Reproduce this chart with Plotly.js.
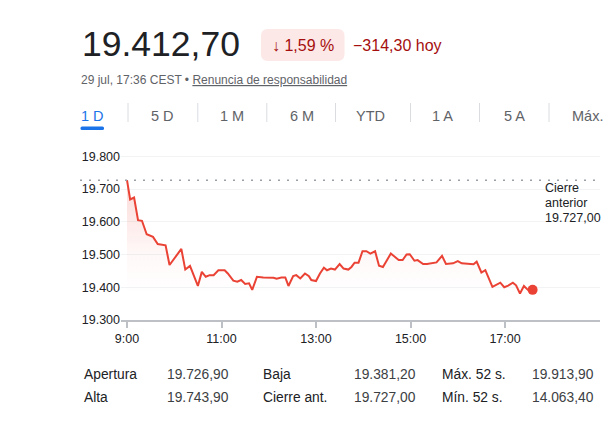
<!DOCTYPE html>
<html>
<head>
<meta charset="utf-8">
<script src="https://cdn.plot.ly/plotly-3.0.1.min.js"></script>
<style>
  html, body { margin: 0; padding: 0; background: #fff; }
  #chart { width: 610px; height: 437px; }
</style>
</head>
<body>
<div id="chart"></div>
<script>
// ---- Data ----
const times = ["9:00","9:04","9:09","9:14","9:19","9:25","9:33","9:39","9:49","9:54",
  "10:09","10:14","10:20","10:30","10:35","10:40","10:45","10:50","10:56",
  "11:04","11:08","11:15","11:20","11:25","11:30","11:35","11:39","11:45","11:53",
  "12:06","12:10","12:16","12:21","12:25","12:31","12:35","12:40","12:46","12:51","12:54",
  "13:00","13:05","13:10","13:14","13:19","13:24","13:30","13:35","13:41","13:45","13:49","13:54","13:59",
  "14:04","14:09","14:15","14:20","14:25","14:35","14:45","14:50","14:55","14:59",
  "15:05","15:09","15:16","15:21","15:33","15:40","15:45","15:54",
  "16:00","16:05","16:20","16:24","16:30","16:35","16:44","16:54","16:59",
  "17:04","17:10","17:14","17:19","17:24","17:29","17:35"];
const prices = [19727,19668,19674,19605,19603,19562,19554,19532,19528,19468,
  19517,19454,19465,19404,19447,19432,19437,19437,19452,
  19452,19442,19420,19417,19422,19410,19412,19392,19432,19430,
  19429,19426,19430,19430,19404,19434,19437,19427,19442,19434,19422,
  19419,19442,19460,19452,19457,19454,19471,19457,19454,19462,19475,19475,19510,
  19510,19503,19510,19466,19462,19503,19483,19483,19500,19501,
  19481,19483,19471,19471,19476,19496,19471,19473,
  19480,19473,19470,19478,19445,19452,19401,19414,19400,
  19405,19414,19406,19381,19404,19392,19392];
const prevClose = 19727.00;
const xTickLabels = ["9:00","11:00","13:00","15:00","17:00"];
const yTicks = [19300,19400,19500,19600,19700,19800];

const priceText = "19.412,70";
const changePct = "↓ 1,59 %";
const changeAbs = "−314,30 hoy";
const stampText = "29 jul, 17:36 CEST • ";
const disclaimer = "Renuncia de responsabilidad";
const tabs = ["1 D","5 D","1 M","6 M","YTD","1 A","5 A","Máx."];
const statLabels = [["Apertura","Alta"],["Baja","Cierre ant."],["Máx. 52 s.","Mín. 52 s."]];
const statValues = [["19.726,90","19.743,90"],["19.381,20","19.727,00"],["19.913,90","14.063,40"]];
const prevLabel = ["Cierre","anterior","19.727,00"];

// ---- helpers ----
function toHours(t){ const p = t.split(":"); return +p[0] + (+p[1])/60; }
const xs = times.map(toHours);
const xTickVals = xTickLabels.map(toHours);

const L = 121, R = 600, T = 153, B = 320;
function px(x){ return (x - L) / (R - L); }
function py(y){ return (B - y) / (B - T); }

const RED = '#ea4335';
const FONT = 'Liberation Sans, Arial, sans-serif';

const traces = [
  {
    x: xs, y: prices, type: 'scatter', mode: 'lines',
    line: { color: RED, width: 2 },
    fill: 'tozeroy',
    fillgradient: {
      type: 'vertical', start: 19380, stop: prevClose,
      colorscale: [[0,'rgba(234,67,53,0)'],[0.35,'rgba(234,67,53,0.035)'],[1,'rgba(234,67,53,0.2)']]
    },
    hoverinfo: 'skip'
  },
  {
    x: [xs[xs.length-1]], y: [prices[prices.length-1]], type: 'scatter', mode: 'markers',
    marker: { color: RED, size: 10 }, hoverinfo: 'skip'
  }
];

const ann = [];
function txt(text, x, y, size, color, anchor, extra){
  ann.push(Object.assign({
    text: text, xref: 'paper', yref: 'paper', x: px(x), y: py(y),
    xanchor: anchor || 'left', yanchor: 'middle', showarrow: false,
    font: { family: FONT, size: size, color: color }, borderpad: 0
  }, extra || {}));
}

// header
txt(priceText, 81, 44, 35.5, '#202124');
txt(changePct, 303, 45, 16, '#a50e0e', 'center');
txt(changeAbs, 352, 45, 16, '#a50e0e');
txt(stampText + '<u>' + disclaimer + '</u>', 80, 80, 12, '#5f6368');

// tabs
const tabCenters = [92.7, 162.4, 231.7, 301.7, 370, 442, 514.5, 587];
tabs.forEach((t, i) => txt(t, tabCenters[i], 116, 14.5, i === 0 ? '#1a73e8' : '#5f6368', 'center'));

// previous close label
prevLabel.forEach((t, i) => txt(t, 543.5, 187.7 + i*15, 12.5, '#202124'));

// stats table
const labX = [83, 262, 441], valX = [165.5, 352.5, 531];
const rowY = [374, 397];
statLabels.forEach((col, c) => col.forEach((t, r) => txt(t, labX[c], rowY[r], 13.8, '#202124')));
statValues.forEach((col, c) => col.forEach((t, r) => txt(t, valX[c], rowY[r], 13.8, '#3c4043')));

// shapes
const shapes = [];
function roundRect(x0, y0, x1, y1, r, color){
  const X = v => px(v), Y = v => py(v);
  const path = `M ${X(x0+r)} ${Y(y0)} L ${X(x1-r)} ${Y(y0)} Q ${X(x1)} ${Y(y0)} ${X(x1)} ${Y(y0+r)} ` +
    `L ${X(x1)} ${Y(y1-r)} Q ${X(x1)} ${Y(y1)} ${X(x1-r)} ${Y(y1)} L ${X(x0+r)} ${Y(y1)} ` +
    `Q ${X(x0)} ${Y(y1)} ${X(x0)} ${Y(y1-r)} L ${X(x0)} ${Y(y0+r)} Q ${X(x0)} ${Y(y0)} ${X(x0+r)} ${Y(y0)} Z`;
  shapes.push({ type: 'path', xref: 'paper', yref: 'paper', path: path,
    fillcolor: color, line: { width: 0 }, layer: 'below' });
}
roundRect(261, 29, 344.5, 61, 7, '#fce8e6');
// blue active tab underline
roundRect(80.5, 126.5, 104, 130, 1.5, '#1a73e8');
// tab separators
[128, 197.8, 266.8, 335.5, 410.5, 479.5, 549].forEach(x => shapes.push({
  type: 'line', xref: 'paper', yref: 'paper', x0: px(x), x1: px(x), y0: py(103), y1: py(122),
  line: { color: '#dadce0', width: 1 }
}));
// previous close dotted line
shapes.push({
  type: 'line', xref: 'paper', yref: 'y', x0: px(80), x1: px(596), y0: prevClose, y1: prevClose,
  line: { color: '#9aa0a6', width: 1.5, dash: '2px,7px' }, layer: 'above'
});

const layout = {
  width: 610, height: 437,
  margin: { l: L, r: 610 - R, t: T, b: 437 - B, pad: 0 },
  paper_bgcolor: '#fff', plot_bgcolor: '#fff',
  separators: ',.',
  showlegend: false,
  font: { family: FONT, color: '#202124', size: 12.5 },
  xaxis: {
    range: [8.873, 19.01], tickvals: xTickVals, ticktext: xTickLabels,
    showgrid: false, zeroline: false, showline: true, linecolor: '#bdc1c6', linewidth: 2,
    ticks: 'outside', ticklen: 6, tickwidth: 2, tickcolor: '#bdc1c6',
    tickfont: { family: FONT, size: 12.5, color: '#202124' }, fixedrange: true
  },
  yaxis: {
    range: [19300, 19810], tickvals: yTicks, tickformat: ',.0f',
    showgrid: true, gridcolor: '#f1f3f4', gridwidth: 1, zeroline: false, showline: false,
    ticks: '', tickfont: { family: FONT, size: 12.5, color: '#202124' }, fixedrange: true,
    ticklabelstandoff: 0
  },
  annotations: ann,
  shapes: shapes
};

Plotly.newPlot('chart', traces, layout, { displayModeBar: false, staticPlot: true });
</script>
</body>
</html>
